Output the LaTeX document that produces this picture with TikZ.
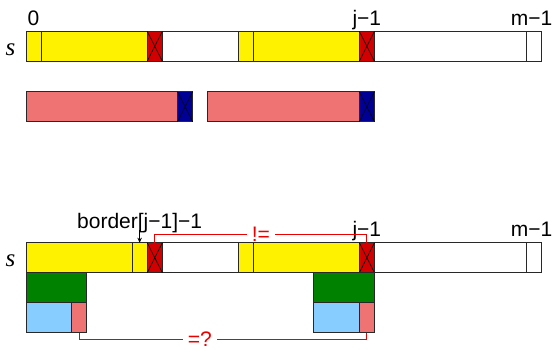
\documentclass[tikz,border=0pt]{standalone}
\usepackage{fontspec}
\setmainfont{Liberation Sans}
\newfontfamily\serifit{Liberation Serif}
\usetikzlibrary{arrows.meta,calc}

\definecolor{cellred}{RGB}{210,0,0}
\definecolor{cellblue}{RGB}{0,0,150}
\definecolor{cellpink}{RGB}{240,115,115}
\definecolor{cellgreen}{RGB}{0,130,0}
\definecolor{celllight}{RGB}{135,205,255}
\definecolor{lineout}{RGB}{40,40,40}
\definecolor{cmpred}{RGB}{235,0,0}

% one cell block: name, first index, length, top edge, fill style
\newcommand\cell[5]{\node[cellbox,#5,minimum width={#3*15.15pt}] (#1) at ({26+#2*15.15},#4) {};}
% diagonal cross over a marked cell
\newcommand\crossout[1]{\draw[xline] (#1.north west) -- (#1.south east) (#1.north east) -- (#1.south west);}

\begin{document}
\begin{tikzpicture}[x=1pt,y=-1pt,
  cellbox/.style={draw=lineout,line width=0.8pt,inner sep=0pt,outer sep=0pt,
    anchor=north west,minimum height=30pt,rectangle},
  xline/.style={draw=black,line width=0.6pt},
  idx/.style={inner sep=0pt,anchor=base,font=\fontsize{21}{25}\selectfont},
  strname/.style={inner sep=0pt,anchor=base,font=\serifit\itshape\fontsize{25}{30}\selectfont},
  cmpline/.style={draw=cmpred,line width=0.8pt},
  cmplabel/.style={text=cmpred,fill=white,inner xsep=5pt,inner ysep=0pt,
    font=\fontsize{21}{25}\selectfont},
  ptr/.style={draw=black,line width=0.7pt,-{Stealth[length=5pt,width=4.5pt]}}]
\useasboundingbox (0,0) rectangle (552,349);

% ---- string s with the prefix match up to j-1
\cell{t0}{0}{1}{31.3}{fill=yellow}
\cell{t1}{1}{7}{31.3}{fill=yellow}
\cell{t2}{8}{1}{31.3}{fill=cellred}
\cell{t3}{9}{5}{31.3}{fill=white}
\cell{t4}{14}{1}{31.3}{fill=yellow}
\cell{t5}{15}{7}{31.3}{fill=yellow}
\cell{t6}{22}{1}{31.3}{fill=cellred}
\cell{t7}{23}{10}{31.3}{fill=white}
\cell{t8}{33}{1}{31.3}{fill=white}
\crossout{t2}
\crossout{t6}

\node[strname] (s1) at (10.5,55) {s};
\node[idx] (i0) at (t0.center |- 0,25) {0};
\node[idx] (ij) at (t6.center |- 0,25) {j−1};
\node[idx] (im) at ($(t8.center |- 0,25)+(-2,0)$) {m−1};

% ---- the two matching pieces
\cell{p1}{0}{10}{91.7}{fill=cellpink}
\cell{b1}{10}{1}{91.7}{fill=cellblue}
\cell{p2}{12}{10}{91.7}{fill=cellpink}
\cell{b2}{22}{1}{91.7}{fill=cellblue}
\crossout{b1}
\crossout{b2}

% ---- string s again, comparing at border[j-1]
\cell{u0}{0}{7}{242.7}{fill=yellow}
\cell{u1}{7}{1}{242.7}{fill=yellow}
\cell{u2}{8}{1}{242.7}{fill=cellred}
\cell{u3}{9}{5}{242.7}{fill=white}
\cell{u4}{14}{1}{242.7}{fill=yellow}
\cell{u5}{15}{7}{242.7}{fill=yellow}
\cell{u6}{22}{1}{242.7}{fill=cellred}
\cell{u7}{23}{10}{242.7}{fill=white}
\cell{u8}{33}{1}{242.7}{fill=white}
\crossout{u2}
\crossout{u6}

\node[strname] (s2) at (10.5,266.5) {s};
\node[idx] (uj) at (u6.center |- 0,236.2) {j−1};
\node[idx] (um) at ($(u8.center |- 0,236.2)+(-2,0)$) {m−1};
\node[idx] (bd) at (u1.center |- 0,228.3) {border[j−1]−1};
\coordinate (bdtip) at ($(u1.north)+(0,-12.5)$);
\draw[ptr] (bdtip) -- (u1.north);

% ---- nested borders under both ends
\cell{g1}{0}{4}{272.7}{fill=cellgreen}
\cell{l1}{0}{3}{302.7}{fill=celllight}
\cell{k1}{3}{1}{302.7}{fill=cellpink}
\cell{g2}{19}{4}{272.7}{fill=cellgreen}
\cell{l2}{19}{3}{302.7}{fill=celllight}
\cell{k2}{22}{1}{302.7}{fill=cellpink}

% ---- comparisons
\draw[cmpline] (u2.north) -- ++(0,-8) -| node[cmplabel,pos=0.25] (ne) {!=} (u6.north);
\draw[cmpline] (k1.south) -- ++(0,6.7) -| node[cmplabel,pos=0.21] (eq) {=?} (k2.south);
\end{tikzpicture}
\end{document}
